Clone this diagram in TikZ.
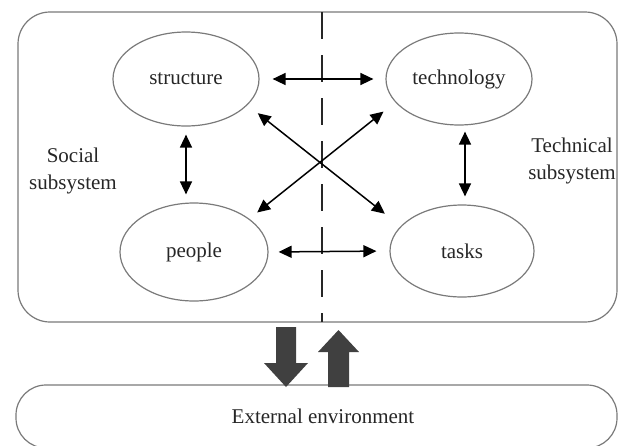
\documentclass[tikz,border=0pt]{standalone}
\usepackage{fontspec}
\setmainfont{Liberation Serif}
\usetikzlibrary{shapes.geometric,arrows.meta}

\definecolor{framegray}{HTML}{7A7A7A}
\definecolor{bigarrow}{HTML}{404040}
\definecolor{inkgray}{HTML}{262626}

\tikzset{
  frame/.style={draw=framegray, line width=1.2pt},
  part/.style={ellipse, frame, inner sep=0pt, text=inkgray},
  link/.style={line width=1.5pt, {Triangle[length=13pt,width=12pt]}-{Triangle[length=13pt,width=12pt]}},
  label/.style={align=center, text=inkgray}
}

\begin{document}
\begin{tikzpicture}[x=1pt, y=-1pt, font=\fontsize{21}{27}\selectfont]
\useasboundingbox (0,0) rectangle (619,445);

% Frames
\draw[frame, rounded corners=32pt] (18,12) rectangle (617,322);
\draw[frame, rounded corners=30pt] (16,385) rectangle (617,448);

% Divider between the two subsystems
\draw[inkgray, line width=1.5pt, dash pattern=on 27pt off 16pt] (322,12) -- (322,322);

% The four parts
\node[part, minimum width=146pt, minimum height=94pt] (structure) at (186,79) {structure};
\node[part, minimum width=146pt, minimum height=92pt] (technology) at (459,79) {technology};
\node[part, minimum width=148pt, minimum height=98pt] (people) at (194,252) {people};
\node[part, minimum width=144pt, minimum height=92pt] (tasks) at (462,251) {tasks};

% Subsystem labels
\node[label] (social) at (73,171) {Social\\subsystem};
\node[label] (technical) at (572,161) {Technical\\subsystem};

% Links between the parts
\draw[link, shorten <=13pt, shorten >=12pt] (structure.east) -- (technology.west);
\draw[link, shorten <=10pt, shorten >=13pt] (people.east) -- (tasks.west);
\draw[link, shorten <=8pt, shorten >=8pt] (structure.south) -- (structure.south |- people.north);
\draw[link, shorten <=6pt, shorten >=8pt] (technology.south) ++(6,0) coordinate (tdown) -- (tdown |- tasks.north);
\draw[link, shorten <=13pt, shorten >=20pt] (structure.-23) -- (tasks.158);
\draw[link, shorten <=10pt, shorten >=15pt] (people.31) -- (technology.200);

% Exchange with the environment
\fill[bigarrow] (276,327) -- (296,327) -- (296,363) -- (308,363) -- (286,387)
  -- (264,363) -- (276,363) -- cycle;
\fill[bigarrow] (328,387) -- (349,387) -- (349,352) -- (359,352) -- (338.5,330)
  -- (318,352) -- (328,352) -- cycle;

\node[text=inkgray] (environment) at (323,416) {External environment};

\end{tikzpicture}
\end{document}
